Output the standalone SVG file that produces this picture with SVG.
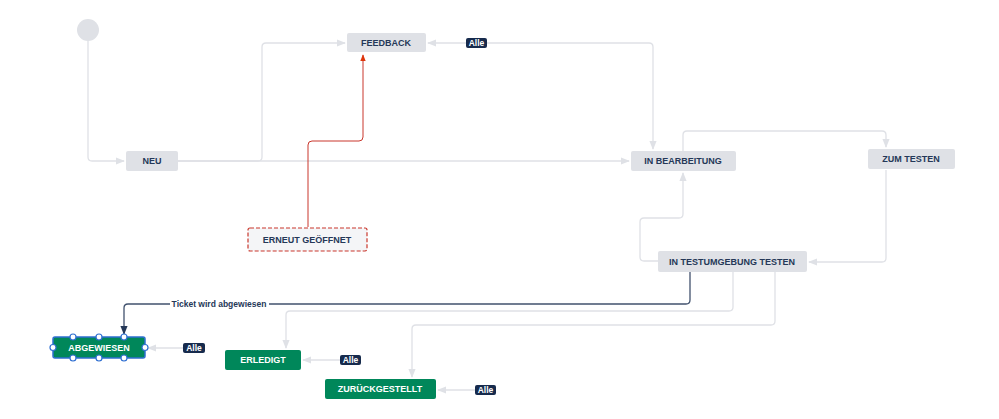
<svg xmlns="http://www.w3.org/2000/svg" width="999" height="419" viewBox="0 0 999 419">
<style>
text{font-family:"Liberation Sans",Arial,sans-serif;font-weight:bold;font-size:9px;text-anchor:middle;dominant-baseline:central}
.n rect{fill:#dfe1e6;rx:2}
.n text{fill:#253858}
.g rect{fill:#00875a}
.g text{fill:#fff}
.c path{fill:none;stroke:#dfe1e6;stroke-width:1.3}
.al rect{fill:#172b4d;rx:2}
.al text{fill:#fff;font-size:8.5px}
.h{fill:#fff;stroke:#2f6fd1;stroke-width:1.2}
</style>
<defs>
<marker id="a" viewBox="0 0 10 10" refX="9" refY="5" markerWidth="7" markerHeight="7" orient="auto-start-reverse"><path d="M0,1 L10,5 L0,9z" fill="#dfe1e6"/></marker>
<marker id="r" viewBox="0 0 10 10" refX="9" refY="5" markerWidth="7" markerHeight="7" orient="auto"><path d="M0,1 L10,5 L0,9z" fill="#de350b"/></marker>
<marker id="d" viewBox="0 0 10 10" refX="9" refY="5" markerWidth="7" markerHeight="7" orient="auto"><path d="M0,1 L10,5 L0,9z" fill="#253858"/></marker>
</defs>
<g class="c" id="connectors">
<path d="M88,41 V157 Q88,161 92,161 H124" marker-end="url(#a)"/>
<path d="M178,161 H258 Q262,161 262,157 V47 Q262,43 266,43 H345" marker-end="url(#a)"/>
<path d="M178,161 H629" marker-end="url(#a)"/>
<path d="M428,43 H649 Q653,43 653,47 V149" marker-start="url(#a)" marker-end="url(#a)"/>
<path d="M308,227 V145 Q308,141 312,141 H359 Q363,141 363,137 V55" style="stroke:#c9372c;stroke-width:1" marker-end="url(#r)"/>
<path d="M683,151 V135 Q683,131 687,131 H882 Q886,131 886,135 V147" marker-end="url(#a)"/>
<path d="M886,170 V258 Q886,262 882,262 H809" marker-end="url(#a)"/>
<path d="M658,261 H644 Q640,261 640,257 V222 Q640,218 644,218 H679 Q683,218 683,214 V173" marker-end="url(#a)"/>
<path d="M690,272 V300 Q690,304 686,304 H128 Q124,304 124,308 V334" style="stroke:#42526e" marker-end="url(#d)"/>
<path d="M733,272 V307 Q733,311 729,311 H290 Q286,311 286,315 V348" marker-end="url(#a)"/>
<path d="M775,272 V321 Q775,325 771,325 H416 Q412,325 412,329 V377" marker-end="url(#a)"/>
<path d="M183,348 H148" marker-end="url(#a)"/>
<path d="M340,360 H303" marker-end="url(#a)"/>
<path d="M475,390 H438" marker-end="url(#a)"/>
<rect x="170" y="298" width="99" height="12" fill="#fff" stroke="none"/>
<text x="219" y="304" style="fill:#253858;font-size:8.5px">Ticket wird abgewiesen</text>
</g>
<g id="start"><circle cx="88" cy="30" r="11" fill="#dfe1e6"/></g>
<g id="neu" class="n"><rect x="126" y="151" width="52" height="20"/><text x="152" y="161">NEU</text></g>
<g id="feedback" class="n"><rect x="347" y="33" width="79" height="19"/><text x="386" y="43">FEEDBACK</text></g>
<g id="inbearbeitung" class="n"><rect x="631" y="151" width="105" height="20"/><text x="683" y="161">IN BEARBEITUNG</text></g>
<g id="zumtesten" class="n"><rect x="868" y="149" width="87" height="20"/><text x="911" y="159">ZUM TESTEN</text></g>
<g id="intestumgebung" class="n"><rect x="658" y="251" width="149" height="21"/><text x="732" y="261.5">IN TESTUMGEBUNG TESTEN</text></g>
<g id="erneut" class="n"><rect x="248" y="228" width="119" height="23" style="fill:#f4f5f7;stroke:#c9372c;stroke-dasharray:4 2;stroke-width:1.2"/><text x="307" y="240">ERNEUT GEÖFFNET</text></g>
<g id="abgewiesen" class="g"><rect x="53" y="337" width="92" height="21" rx="2" style="stroke:#2f6fd1;stroke-width:1.5"/><text x="99" y="347.5">ABGEWIESEN</text>
<circle class="h" cx="73" cy="337" r="3"/><circle class="h" cx="99" cy="337" r="3"/><circle class="h" cx="124" cy="337" r="3"/>
<circle class="h" cx="73" cy="358" r="3"/><circle class="h" cx="99" cy="358" r="3"/><circle class="h" cx="124" cy="358" r="3"/>
<circle class="h" cx="53" cy="347.5" r="3"/><circle class="h" cx="145" cy="347.5" r="3"/></g>
<g id="erledigt" class="g"><rect x="225" y="350" width="76" height="20" rx="2"/><text x="263" y="360">ERLEDIGT</text></g>
<g id="zurueck" class="g"><rect x="325" y="379" width="111" height="20" rx="2"/><text x="380" y="389">ZURÜCKGESTELLT</text></g>
<g id="alle1" class="al"><rect x="466" y="38" width="21" height="10"/><text x="476.5" y="43">Alle</text></g>
<g id="alle2" class="al"><rect x="183" y="343" width="22" height="10"/><text x="194" y="348">Alle</text></g>
<g id="alle3" class="al"><rect x="340" y="355" width="21" height="10"/><text x="350.5" y="360">Alle</text></g>
<g id="alle4" class="al"><rect x="475" y="385" width="21" height="10"/><text x="485.5" y="390">Alle</text></g>
</svg>
